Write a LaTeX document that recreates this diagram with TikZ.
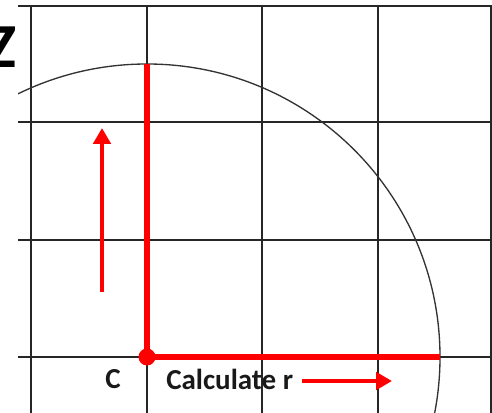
\documentclass[tikz,border=0pt]{standalone}
\usepackage{fontspec}
\setmainfont{Carlito}
\usetikzlibrary{arrows.meta}
\definecolor{radred}{RGB}{255,0,0}
\tikzset{
  gridline/.style={draw=black!85, line width=1.3pt},
  radiusline/.style={draw=radred, line width=4.2pt},
  hintarrow/.style={draw=radred, line width=3pt, -{Triangle[length=12pt,width=13pt]}},
  labeltext/.style={inner sep=0pt, text=black!90, font=\bfseries\fontsize{21.75}{26}\selectfont}
}

\begin{document}
\begin{tikzpicture}[x=0.75pt,y=0.75pt,yscale=-1,xscale=1]
\useasboundingbox (0,0) rectangle (492,413);

% Text Node
\node [anchor=east, inner sep=0pt, font=\bfseries\fontsize{47}{50}\selectfont] (zlabel) at (17,47) {Z};

%Straight Lines: grid rows
\draw [gridline] (18,6) -- (492,6) ;
\draw [gridline] (18,122) -- (492,122) ;
\draw [gridline] (18,240) -- (492,240) ;
\draw [gridline] (18,357) -- (492,357) ;
%Straight Lines: grid columns
\draw [gridline] (31,6) -- (31,413) ;
\draw [gridline] (147,6) -- (147,413) ;
\draw [gridline] (262,6) -- (262,413) ;
\draw [gridline] (378,6) -- (378,413) ;
\draw [gridline] (491,6) -- (491,413) ;

\coordinate (centre) at (147,357);
\coordinate (top) at (147,64);
\coordinate (rim) at (440,357);

%Shape: Circle
\begin{scope}
\clip (18,0) rectangle (492,413);
\draw [black!80, line width=1pt] (centre) circle (293) ;
\end{scope}

%Straight Lines: radii
\draw [radiusline] (centre) -- (top) ;
\draw [radiusline] (centre) -- (rim) ;
\fill [radred] (centre) circle (8.5) ;

%Straight Lines: arrows
\coordinate (upstart) at (102,292);
\coordinate (upend) at (102,128);
\draw [hintarrow] (upstart) -- (upend) ;

% Text Node
\node [labeltext] (clabel) at (113,379) {C};
% Text Node
\node [labeltext, anchor=west] (calc) at (166,379) {Calculate r};

\coordinate (calcstart) at (302,381);
\coordinate (calcend) at (392,381);
\draw [hintarrow] (calcstart) -- (calcend) ;

\end{tikzpicture}
\end{document}
